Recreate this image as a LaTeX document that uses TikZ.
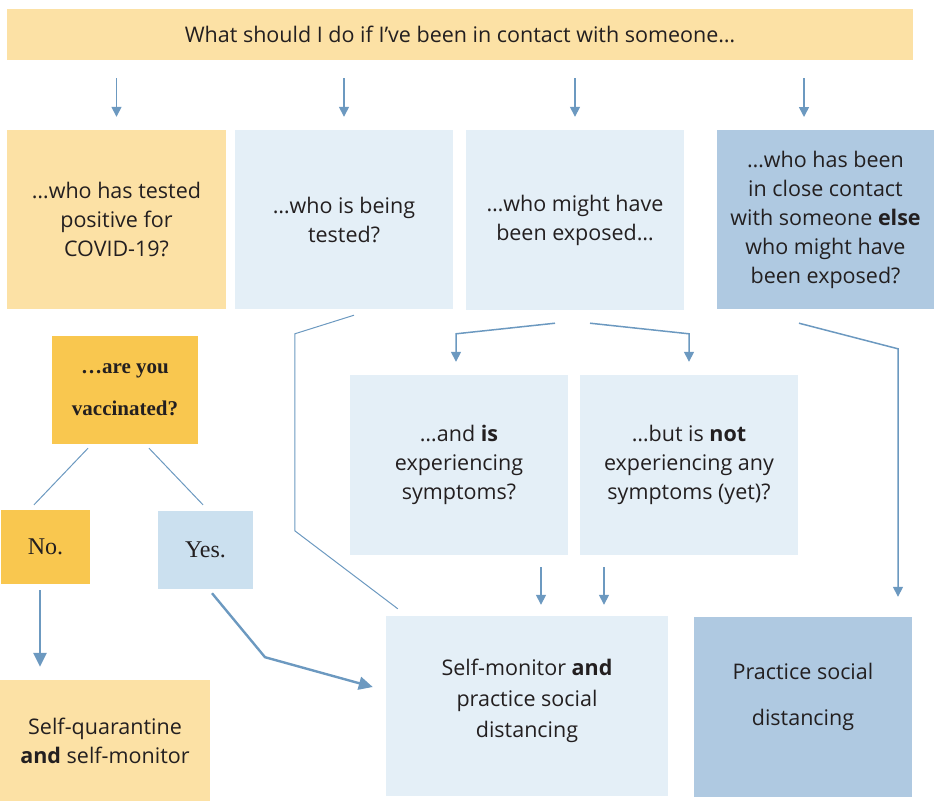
\documentclass[tikz,border=0pt]{standalone}
\usepackage{fontspec}
\setmainfont{Open Sans}
\newfontfamily\serifb{Liberation Serif}
\usetikzlibrary{arrows.meta,calc}
\definecolor{ly}{HTML}{FCE1A5}
\definecolor{sy}{HTML}{F9C74F}
\definecolor{lb}{HTML}{E4EFF7}
\definecolor{mb}{HTML}{CBE0EF}
\definecolor{db}{HTML}{AFC9E1}
\definecolor{lc}{HTML}{6C99C0}
\definecolor{txt}{HTML}{231F20}
\begin{document}
\begin{tikzpicture}[x=1pt,y=-1pt,
  box/.style={draw=none, inner sep=0pt, align=center, text=txt, font=\fontsize{21.5}{29}\selectfont},
  arr/.style={draw=lc, line width=1.5pt, -{Triangle[width=10pt,length=10pt]}},
  arrthick/.style={draw=lc, line width=2.4pt, -{Triangle[width=13pt,length=14pt]}},
  ln/.style={draw=lc, line width=1pt}]
\useasboundingbox (0,0) rectangle (938,801);
% nodes
\node[box, fill=ly, minimum width=906pt, minimum height=51pt] (top) at (460,34.5) {What should I do if I’ve been in contact with someone…};
\node[box, fill=ly, minimum width=219pt, minimum height=179pt] (b1) at (116.5,219.5) {…who has tested\\positive for\\COVID-19?};
\node[box, fill=lb, minimum width=218pt, minimum height=179pt] (b2) at (344,219.5) {…who is being\\tested?};
\node[box, fill=lb, minimum width=218pt, minimum height=180pt] (b3) at (575,220) {…who might have\\been exposed…};
\node[box, fill=db, minimum width=217pt, minimum height=179pt] (b4) at (825.5,219.5) {…who has been\\in close contact\\with someone \textbf{else}\\who might have\\been exposed?};
\node[box, fill=sy, minimum width=146pt, minimum height=108pt, font=\serifb\bfseries\fontsize{21}{42}\selectfont] (vac) at (125,390) {…are you\\vaccinated?};
\node[box, fill=sy, minimum width=89pt, minimum height=74pt, font=\serifb\fontsize{24}{29}\selectfont] (no) at (45.5,547) {No.};
\node[box, fill=mb, minimum width=95pt, minimum height=78pt, font=\serifb\fontsize{24}{29}\selectfont] (yes) at (205.5,550) {Yes.};
\node[box, fill=lb, minimum width=218pt, minimum height=180pt] (s1) at (459,465) {…and \textbf{is}\\experiencing\\symptoms?};
\node[box, fill=lb, minimum width=218pt, minimum height=180pt] (s2) at (689,465) {…but is \textbf{not}\\experiencing any\\symptoms (yet)?};
\node[box, fill=ly, minimum width=210pt, minimum height=121pt] (sq) at (105,740.5) {Self-quarantine\\\textbf{and} self-monitor};
\node[box, fill=lb, minimum width=282pt, minimum height=180pt, font=\fontsize{21.5}{31}\selectfont] (sm) at (527,706) {Self-monitor \textbf{and}\\practice social\\distancing\rule[-16pt]{0pt}{16pt}};
\node[box, fill=db, minimum width=218pt, minimum height=180pt, font=\fontsize{21.5}{46}\selectfont] (ps) at (803,707) {Practice social\\distancing\rule[-26pt]{0pt}{26pt}};
\coordinate (a4) at (804,130);
% top arrows
\draw[arr, shorten <=18pt, shorten >=13pt] (top.south -| b1.north) -- (b1.north);
\draw[arr, shorten <=18pt, shorten >=13pt] (top.south -| b2.north) -- (b2.north);
\draw[arr, shorten <=18pt, shorten >=13pt] (top.south -| b3.north) -- (b3.north);
\draw[arr, shorten <=18pt, shorten >=13pt] (top.south -| a4) -- (a4);
% b3 split
\draw[arr] ($(b3.south)+(-20,13)$) -- ($(s1.north)+(-3,-41)$) -- ($(s1.north)+(-3,-13)$);
\draw[arr] ($(b3.south)+(15,13)$) -- ($(s2.north)+(0,-41)$) -- ($(s2.north)+(0,-13)$);
% down to sm
\draw[arr] ($(s1.south -| sm.north)+(14,12)$) -- ($(sm.north)+(14,-11)$);
\draw[arr] ($(s2.south -| sm.north)+(77,12)$) -- ($(sm.north)+(77,-11)$);
% b4 to ps
\draw[arr] ($(b4.south)+(-26.5,14)$) -- ($(ps.north)+(95,-268)$) -- ($(ps.north)+(95,-20)$);
% b2 to sm
\draw[ln] ($(b2.south)+(10,6)$) -- ($(sm.north west)+(-91,-282)$) -- ($(sm.north west)+(-91,-85)$) -- ($(sm.north west)+(12,-7)$);
% vaccinated
\draw[ln] ($(vac.south)+(-37,4)$) -- ($(no.north)+(-11.5,-5)$);
\draw[ln] ($(vac.south)+(24,4)$) -- ($(yes.north)+(-2.5,-6)$);
\draw[arrthick] ($(no.south)+(-5.5,6)$) -- ($(sq.north)+(-65,-13)$);
\draw[arrthick] ($(yes.south)+(6.5,4)$) -- ($(yes.south)+(59.5,68)$) -- ($(sm.west)+(-13,-19)$);
\end{tikzpicture}
\end{document}
